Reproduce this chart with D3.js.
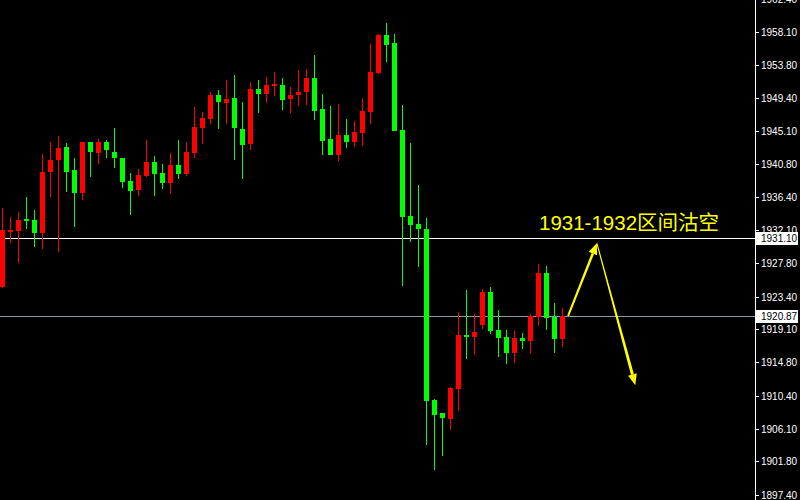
<!DOCTYPE html>
<html>
<head>
<meta charset="utf-8">
<script src="https://cdn.jsdelivr.net/npm/d3@7"></script>
<style>
  html, body { margin: 0; padding: 0; background: #000; }
  svg { display: block; }
</style>
</head>
<body>
<div id="chart"></div>
<script>
// candle data (red = up, green = down)
const opens  = [1924.7,1931.9,1932.0,1933.6,1933.45,1931.74,1939.74,1941.31,1943.02,1940.0,
                1936.99,1943.67,1942.23,1943.67,1942.36,1941.58,1938.56,1937.38,1939.22,1941.05,
                1939.61,1938.3,1940.66,1939.48,1942.23,1945.51,1946.69,1949.84,1948.79,1949.44,
                1945.38,1943.41,1950.62,1949.97,1951.02,1951.15,1949.31,1949.84,1950.23,1952.06,
                1948.0,1944.07,1941.97,1944.59,1943.67,1944.85,1947.61,1952.72,1957.7,1956.65,
                1945.25,1933.97,1932.92,1932.27,1909.85,1908.15,1907.36,1911.29,1918.37,1918.11,
                1919.68,1924.01,1919.03,1918.11,1916.01,1917.98,1917.59,1920.73,1926.5,1920.73,
                1917.85];
const highs  = [1935.0,1933.84,1934.5,1936.46,1934.76,1942.1,1943.67,1944.46,1943.54,1941.58,
                1943.67,1943.67,1944.07,1943.94,1945.51,1941.58,1939.61,1940.13,1943.94,1941.84,
                1940.79,1942.23,1943.94,1943.67,1948.26,1947.61,1950.23,1950.49,1951.8,1952.46,
                1948.92,1951.54,1951.8,1952.2,1952.85,1952.06,1950.88,1953.11,1953.25,1955.08,
                1949.97,1948.39,1948.66,1946.69,1946.43,1949.44,1956.52,1957.83,1959.27,1957.83,
                1948.52,1943.54,1938.04,1933.71,1909.98,1908.15,1911.55,1921.39,1924.27,1921.13,
                1924.4,1924.66,1921.65,1919.03,1918.89,1918.63,1921.13,1927.68,1927.42,1922.57,
                1921.91];
const lows   = [1924.5,1930.43,1927.81,1932.27,1929.91,1929.65,1936.46,1929.25,1937.12,1932.53,
                1936.07,1939.09,1940.79,1941.58,1940.27,1937.64,1934.1,1936.59,1939.09,1936.59,
                1937.51,1936.86,1938.82,1939.22,1941.58,1943.41,1946.03,1945.38,1946.03,1941.31,
                1938.82,1942.63,1947.48,1948.79,1949.7,1947.87,1947.48,1948.39,1948.53,1946.56,
                1941.97,1941.97,1941.18,1942.89,1943.02,1943.15,1946.03,1952.59,1954.16,1945.12,
                1924.8,1930.56,1927.29,1903.95,1900.67,1902.51,1905.92,1908.41,1915.23,1915.75,
                1919.16,1918.5,1915.49,1914.57,1914.7,1916.54,1915.88,1919.55,1919.03,1916.01,
                1916.8];
const closes = [1932.1,1932.1,1933.45,1933.32,1931.74,1939.74,1941.31,1942.89,1939.74,1936.99,
                1943.67,1942.36,1943.67,1942.63,1941.58,1938.43,1937.25,1939.35,1941.05,1939.48,
                1938.3,1940.66,1939.48,1942.36,1945.64,1946.82,1949.84,1948.92,1949.31,1945.51,
                1943.28,1950.62,1949.97,1951.15,1951.28,1949.18,1949.84,1950.23,1952.06,1947.74,
                1943.8,1941.97,1944.59,1943.67,1944.98,1947.74,1952.85,1957.7,1956.39,1945.12,
                1933.84,1932.79,1932.27,1909.72,1907.88,1907.49,1911.42,1918.37,1918.11,1918.76,
                1924.01,1918.89,1917.98,1916.01,1917.98,1917.59,1920.87,1926.5,1920.6,1917.85,
                1920.87];

const priceTicks = [1962.40,1958.10,1953.80,1949.40,1945.10,1940.80,1936.40,1932.10,
                    1927.80,1923.40,1919.10,1914.80,1910.40,1906.10,1901.80,1897.40];
const resistance = 1931.10;
const lastPrice = 1920.87;
const noteText = "1931-1932区间沽空";
// arrow path in (bar index, price)
const arrowPts = [[70.7, 1920.87], [74.3, 1930.4], [79.1, 1911.8]];

const W = 800, H = 500, axisX = 755;

const x = d3.scaleLinear().domain([0, 70]).range([2.5, 562.5]);
const y = d3.scaleLinear().domain([1896.74, 1962.29]).range([H, 0]);

const bars = opens.map((o, i) => ({i, o, h: highs[i], l: lows[i], c: closes[i]}));

const svg = d3.select("#chart").append("svg")
  .attr("width", W).attr("height", H)
  .style("background", "#000");

// horizontal lines
svg.append("line")
  .attr("x1", 0).attr("x2", axisX)
  .attr("y1", Math.round(y(resistance)) + 0.5).attr("y2", Math.round(y(resistance)) + 0.5)
  .attr("stroke", "#fff").attr("stroke-width", 1);
svg.append("line")
  .attr("x1", 0).attr("x2", axisX)
  .attr("y1", Math.round(y(lastPrice)) + 0.5).attr("y2", Math.round(y(lastPrice)) + 0.5)
  .attr("stroke", "#8a9bb0").attr("stroke-width", 1);

// candles
const g = svg.append("g");
const col = d => d.c >= d.o ? "#ff0000" : "#00ff00";

g.selectAll("rect.wick").data(bars).enter().append("rect")
  .attr("class", "wick")
  .attr("x", d => Math.floor(x(d.i)))
  .attr("width", 1)
  .attr("y", d => Math.round(y(d.h)))
  .attr("height", d => Math.max(1, Math.round(y(d.l)) - Math.round(y(d.h))))
  .attr("fill", col);

g.selectAll("rect.body").data(bars).enter().append("rect")
  .attr("class", "body")
  .attr("x", d => Math.floor(x(d.i)) - 2)
  .attr("width", 5)
  .attr("y", d => Math.round(y(Math.max(d.o, d.c))))
  .attr("height", d => Math.max(2, Math.round(y(Math.min(d.o, d.c))) - Math.round(y(Math.max(d.o, d.c)))))
  .attr("fill", col);

// annotation arrows: tapered shaft + filled head
function arrow(p0, p1, w0, w1) {
  const x0 = x(p0[0]), y0 = y(p0[1]), x1 = x(p1[0]), y1 = y(p1[1]);
  const dx = x1 - x0, dy = y1 - y0, len = Math.hypot(dx, dy);
  const ux = dx / len, uy = dy / len, nx = -uy, ny = ux;
  const headL = 11, headW = 4.5;
  const bx = x1 - ux * headL, by = y1 - uy * headL;
  const shaft = [
    [x0 + nx * w0 / 2, y0 + ny * w0 / 2],
    [bx + nx * w1 / 2, by + ny * w1 / 2],
    [bx - nx * w1 / 2, by - ny * w1 / 2],
    [x0 - nx * w0 / 2, y0 - ny * w0 / 2]
  ];
  const head = [[x1, y1], [bx + nx * headW, by + ny * headW], [bx - nx * headW, by - ny * headW]];
  svg.append("path").attr("d", "M" + shaft.join("L") + "Z").attr("fill", "#ffff00");
  svg.append("path").attr("d", "M" + head.join("L") + "Z").attr("fill", "#ffff00");
}
arrow(arrowPts[0], arrowPts[1], 2, 2.5);
arrow(arrowPts[1], arrowPts[2], 1, 3);

svg.append("text")
  .attr("x", 539).attr("y", 230)
  .attr("fill", "#ffff00")
  .attr("font-family", "'Liberation Sans', 'Noto Sans CJK SC', sans-serif")
  .attr("font-size", 20.5)
  .text(noteText);

// price axis
const axis = svg.append("g");
axis.append("rect").attr("x", axisX + 1).attr("y", 0).attr("width", W - axisX).attr("height", H).attr("fill", "#000");
axis.append("line")
  .attr("x1", axisX + 0.5).attr("x2", axisX + 0.5).attr("y1", 0).attr("y2", H)
  .attr("stroke", "#fff");

const tk = axis.selectAll("g.tick").data(priceTicks).enter().append("g")
  .attr("class", "tick")
  .attr("transform", d => `translate(0,${Math.round(y(d)) + 0.5})`);
tk.append("line").attr("x1", axisX).attr("x2", axisX + 4).attr("stroke", "#fff");
tk.append("text")
  .attr("x", 761).attr("dy", "0.35em")
  .attr("fill", "#fff")
  .attr("font-family", "'Liberation Sans', Arial, sans-serif")
  .attr("font-size", 10)
  .text(d => d.toFixed(2));

// level / last price boxes
[resistance, lastPrice].forEach(p => {
  const yy = Math.round(y(p));
  axis.append("rect")
    .attr("x", axisX + 1).attr("y", yy - 6).attr("width", 42).attr("height", 13)
    .attr("fill", "#fff");
  axis.append("text")
    .attr("x", 761).attr("y", yy + 0.5).attr("dy", "0.35em")
    .attr("fill", "#000")
    .attr("font-family", "'Liberation Sans', Arial, sans-serif")
    .attr("font-size", 10)
    .text(p.toFixed(2));
});
</script>
</body>
</html>
